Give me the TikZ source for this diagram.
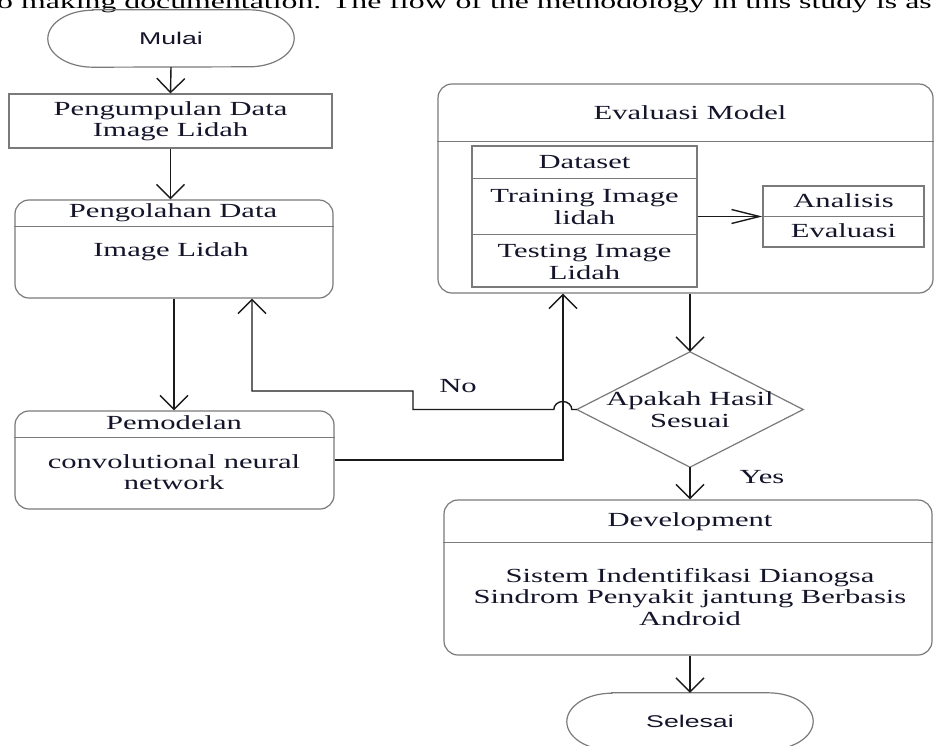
\documentclass[tikz,border=0pt]{standalone}
\usepackage{fontspec}
\setmainfont{Liberation Serif}[FakeStretch=1.53]
\newfontfamily\sansf{Liberation Sans}[FakeStretch=1.57]
\newfontfamily\docf{Liberation Serif}[FakeStretch=1.59]
\usetikzlibrary{arrows.meta}
\definecolor{boxc}{HTML}{7A7A7A}
\definecolor{linec}{HTML}{1A1A1A}
\definecolor{txtc}{HTML}{14142A}
\newcommand\fs{\fontsize{20pt}{21.5pt}\selectfont}
\newcommand\sfs{\sansf\fontsize{17pt}{19pt}\selectfont}
\begin{document}
\begin{tikzpicture}[x=1pt,y=-1pt,
 shp/.style={draw=boxc,line width=1.2pt},
 rbox/.style={shp,rounded corners=14pt,inner sep=0pt},
 sbox/.style={shp,inner sep=0pt},
 frame/.style={inner sep=0pt},
 txt/.style={text=txtc,font=\fs,align=center,inner sep=0pt},
 conn/.style={draw=linec,line width=1.4pt},
 va/.style={conn,-{Straight Barb[length=14pt,width=28pt]}},
 ha/.style={conn,-{Straight Barb[length=28pt,width=14pt]}},
]
\useasboundingbox (0,0) rectangle (934,745);
\clip (0,0) rectangle (934,745);
\fill[white] (0,0) rectangle (934,745);

% top line of document text
\node[inner sep=0pt, anchor=base west, font=\docf\fontsize{20pt}{22pt}\selectfont, text=black] (top) at (-3,8) {o making documentation. The flow of the methodology in this study is as};

% Mulai
\node[frame,minimum width=246pt,minimum height=57pt] (mulai) at (171,38.5) {};
\draw[shp] ([xshift=45pt]mulai.north west) -- ([xshift=-45pt]mulai.north east)
  arc[start angle=-90,end angle=90,x radius=45,y radius=28.5]
  -- ([xshift=45pt]mulai.south west)
  arc[start angle=90,end angle=270,x radius=45,y radius=28.5] -- cycle;
\node[txt,font=\sfs] (mulaiT) at (mulai) {Mulai};

% Pengumpulan
\node[sbox,txt,minimum width=323pt,minimum height=54pt] (kumpul) at (170.5,121) {Pengumpulan Data\\Image Lidah};

% Pengolahan
\node[rbox,minimum width=318pt,minimum height=98pt] (olah) at (174,249) {};
\draw[shp] ([yshift=-27pt]olah.north west) -- ([yshift=-27pt]olah.north east);
\node[txt] (olahT) at (173,213) {Pengolahan Data};
\node[txt] (olahB) at (171,252) {Image Lidah};

% Pemodelan
\node[rbox,minimum width=319pt,minimum height=98pt] (model) at (174.5,460) {};
\draw[shp] ([yshift=-27pt]model.north west) -- ([yshift=-27pt]model.north east);
\node[txt] (modelT) at (174,423) {Pemodelan};
\node[txt] (modelB) at (174,472) {convolutional neural\\network};

% Evaluasi Model
\node[rbox,minimum width=495pt,minimum height=209pt] (eval) at (685.5,188.5) {};
\draw[shp] ([yshift=-58pt]eval.north west) -- ([yshift=-58pt]eval.north east);
\node[txt] (evalT) at (690,113) {Evaluasi Model};

% Dataset table
\node[sbox,minimum width=225pt,minimum height=141pt] (ds) at (584.5,216.5) {};
\draw[shp] ([yshift=-33pt]ds.north west) -- ([yshift=-33pt]ds.north east);
\draw[shp] ([yshift=-89pt]ds.north west) -- ([yshift=-89pt]ds.north east);
\node[txt] (dsT) at (584.5,162) {Dataset};
\node[txt] (train) at (584.5,207) {Training Image\\lidah};
\node[txt] (test) at (584.5,262) {Testing Image\\Lidah};

% Analisis table
\node[sbox,minimum width=161pt,minimum height=61pt] (anl) at (843.5,216.5) {};
\draw[shp] (anl.west) -- (anl.east);
\node[txt] (anlT) at (843.5,201) {Analisis};
\node[txt] (anlB) at (843.5,231) {Evaluasi};

% Decision
\node[frame,minimum width=226pt,minimum height=115pt] (dia) at (690,409.5) {};
\draw[shp] (dia.north) -- (dia.east) -- (dia.south) -- (dia.west) -- cycle;
\node[txt] (diaT) at (dia) {Apakah Hasil\\Sesuai};

% Development
\node[rbox,minimum width=488pt,minimum height=155pt] (dev) at (688,577.5) {};
\draw[shp] ([yshift=-43pt]dev.north west) -- ([yshift=-43pt]dev.north east);
\node[txt] (devT) at (690,522) {Development};
\node[txt] (devB) at (690,597) {Sistem Indentifikasi Dianogsa\\Sindrom Penyakit jantung Berbasis\\Android};

% Selesai
\node[frame,minimum width=246pt,minimum height=57pt] (sel) at (690,721.5) {};
\draw[shp] ([xshift=45pt]sel.north west) -- ([xshift=-45pt]sel.north east)
  arc[start angle=-90,end angle=90,x radius=45,y radius=28.5]
  -- ([xshift=45pt]sel.south west)
  arc[start angle=90,end angle=270,x radius=45,y radius=28.5] -- cycle;
\node[txt,font=\sfs] (selT) at (sel) {Selesai};

% labels
\node[txt] (no) at (458,386) {No};
\node[txt] (yes) at (762,477) {Yes};

% connectors
\draw[va] (mulai.south) -- (kumpul.north);
\draw[va] (kumpul.south) -- (kumpul.south |- olah.north);
\draw[va] (olah.south) -- (olah.south |- model.north);
\draw[ha] (ds.east |- anl.west) -- (anl.west);
\draw[va] (dia.north |- eval.south) -- (dia.north);
\draw[va] (dia.south) -- (dia.south |- dev.north);
\draw[va] (sel.north |- dev.south) -- (sel.north);

\coordinate (fbA) at (413,409.5);
\coordinate (fbB) at (413,391);
\coordinate (fbC) at (252,391);
\draw[va] (dia.west) -- ++(-5,0)
  arc[start angle=0,end angle=-180,x radius=9,y radius=8]
  -- (fbA) -- (fbB) -- (fbC) -- (fbC |- olah.south);

\coordinate (up) at (563,460);
\draw[va] (model.east) -- (up) -- (up |- eval.south);
\end{tikzpicture}
\end{document}
